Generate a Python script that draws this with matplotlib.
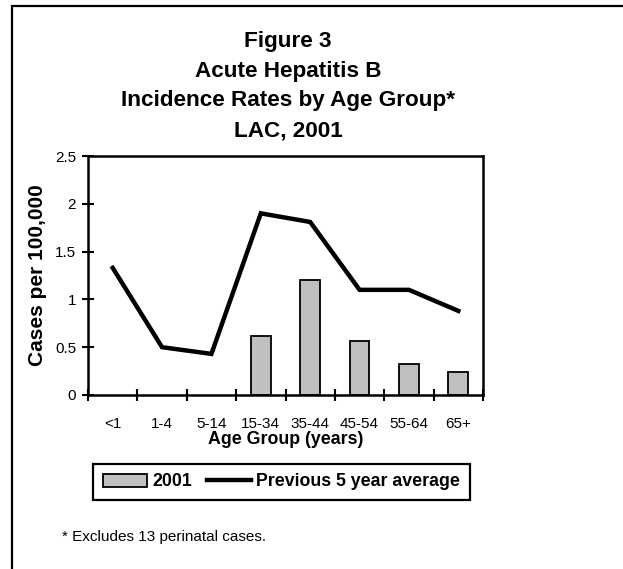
import matplotlib
matplotlib.use("Agg")
import matplotlib.pyplot as plt
from matplotlib.patches import Patch, Rectangle
from matplotlib.lines import Line2D
import numpy as np

plt.rcParams['font.family'] = ['Liberation Sans', 'DejaVu Sans']

categories = ["<1", "1-4", "5-14", "15-34", "35-44", "45-54", "55-64", "65+"]
rates_2001 = [np.nan, np.nan, np.nan, 0.62, 1.20, 0.56, 0.32, 0.24]
prev_5yr_avg = [1.33, 0.50, 0.43, 1.90, 1.81, 1.10, 1.10, 0.88]
title_lines = ["Figure 3", "Acute Hepatitis B", "Incidence Rates by Age Group*", "LAC, 2001"]
y_ticks = [0, 0.5, 1, 1.5, 2, 2.5]
y_tick_labels = ["0", "0.5", "1", "1.5", "2", "2.5"]

W, H = 623, 569
fig = plt.figure(figsize=(W / 100, H / 100), dpi=100)
fig.patch.set_facecolor("white")

def fx(px):
    return px / W

def fy(py):
    return 1 - py / H

# outer border (left and top visible; extends beyond right/bottom)
fig.patches.append(Rectangle((fx(12), fy(700)), 2.0, fy(6) - fy(700),
                             transform=fig.transFigure, fill=False,
                             edgecolor="black", linewidth=1.6, zorder=0))

ax = fig.add_axes([fx(88), fy(395), fx(483) - fx(88), fy(156) - fy(395)])
x = np.arange(len(categories))
ax.bar(x, rates_2001, width=0.4, color="#c0c0c0", edgecolor="black", linewidth=1.3, zorder=2)
ax.plot(x, prev_5yr_avg, color="black", linewidth=3.2, zorder=3, solid_joinstyle="miter")

ax.set_xlim(-0.5, len(categories) - 0.5)
ax.set_ylim(0, 2.5)
ax.set_yticks(y_ticks)
ax.set_yticklabels(y_tick_labels, fontsize=11)
ax.set_xticks(np.arange(len(categories) + 1) - 0.5)
ax.set_xticklabels([])
ax.set_xticks(x, minor=True)
ax.set_xticklabels(categories, minor=True, fontsize=11)
ax.tick_params(axis="x", which="major", direction="inout", length=9, width=1.5)
ax.tick_params(axis="x", which="minor", length=0, pad=16)
ax.tick_params(axis="y", direction="inout", length=9, width=1.5, pad=4)
for s in ax.spines.values():
    s.set_linewidth(1.8)

ax.set_xlabel("Age Group (years)", fontsize=12.8, fontweight="bold", labelpad=0)
ax.set_ylabel("Cases per 100,000", fontsize=15, fontweight="bold", labelpad=6)

for i, (t, py) in enumerate(zip(title_lines, [41, 71, 101, 131])):
    fig.text(fx(288), fy(py), t, ha="center", va="center", fontsize=16.2, fontweight="bold")

handles = [Patch(facecolor="#c0c0c0", edgecolor="black", linewidth=1.3),
           Line2D([0], [0], color="black", linewidth=3.2)]
leg = fig.legend(handles, ["2001", "Previous 5 year average"], loc="center",
                 bbox_to_anchor=(fx(281.5), fy(482)), ncol=2, fancybox=False,
                 framealpha=1, edgecolor="black", handlelength=2.5, handletextpad=0.3,
                 columnspacing=0.8, borderpad=0.55, prop={"weight": "bold", "size": 12.8})
leg.get_frame().set_linewidth(1.6)

fig.text(fx(62), fy(537), "* Excludes 13 perinatal cases.", ha="left", va="center", fontsize=11)

fig.savefig("out.png", dpi=100, facecolor="white")
